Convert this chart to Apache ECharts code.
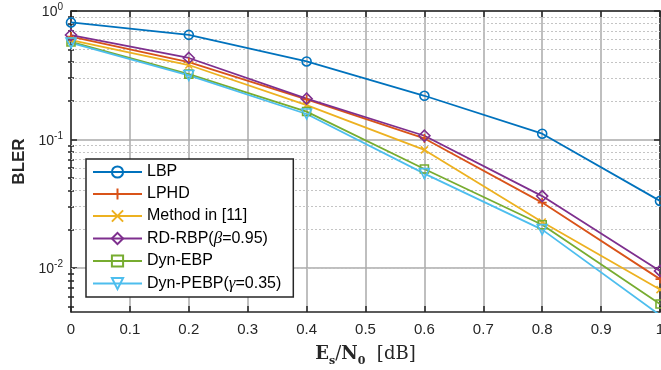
<!DOCTYPE html>
<html><head><meta charset="utf-8">
<script src="https://cdn.jsdelivr.net/npm/echarts@6/dist/echarts.min.js"></script>
<style>html,body{margin:0;padding:0;background:#fff}#c{width:661px;height:370px}</style>
</head><body><div id="c"></div>
<script>
// ---- data ----
const snr = [0, 0.2, 0.4, 0.6, 0.8, 1.0];
const lbp     = [0.815, 0.652, 0.405, 0.219, 0.111, 0.0333];
const lphd    = [0.633, 0.400, 0.205, 0.102, 0.0323, 0.0082];
const method11 = [0.594, 0.380, 0.185, 0.083, 0.0228, 0.0068];
const rdrbp   = [0.650, 0.431, 0.208, 0.107, 0.0363, 0.0095];
const dynebp  = [0.574, 0.323, 0.165, 0.059, 0.0217, 0.00525];
const dynpebp = [0.564, 0.315, 0.158, 0.0543, 0.0199, 0.0043];
const xTicks = [0, 0.1, 0.2, 0.3, 0.4, 0.5, 0.6, 0.7, 0.8, 0.9, 1];
const yMajor = [0.01, 0.1, 1];
const yMinor = [0.005, 0.006, 0.007, 0.008, 0.009,
  0.02, 0.03, 0.04, 0.05, 0.06, 0.07, 0.08, 0.09,
  0.2, 0.3, 0.4, 0.5, 0.6, 0.7, 0.8, 0.9];
const yMin = 0.00455, yMax = 1;

const AX = '#262626';
const sans = 'Liberation Sans';
const serif = 'DejaVu Serif';

function mk(name, vals, color, symbol, size, rotate) {
  return {
    name, type: 'line', xAxisIndex: 0, yAxisIndex: 0,
    data: snr.map((x, i) => [x, vals[i]]),
    symbol, symbolSize: size, symbolRotate: rotate || 0,
    showAllSymbol: true, clip: true,
    lineStyle: { color, width: 1.8 },
    itemStyle: { color: 'rgba(255,255,255,0)', borderColor: color, borderWidth: 1.6 },
    emphasis: { disabled: true },
    z: 5
  };
}

const plus = 'path://M5,0V10M0,5H10';
const cross = 'path://M0,0L10,10M10,0L0,10';

const series = [
  mk('LBP', lbp, '#0072BD', 'circle', 9),
  mk('LPHD', lphd, '#D95319', plus, 9),
  mk('Method in [11]', method11, '#EDB120', cross, 7),
  mk('RD-RBP', rdrbp, '#7E2F8E', 'diamond', 11),
  mk('Dyn-EBP', dynebp, '#77AC30', 'rect', 8),
  mk('Dyn-PEBP', dynpebp, '#4DBEEE', 'triangle', 10, 180),
  {
    name: 'minorgrid', type: 'line', data: [], xAxisIndex: 0, yAxisIndex: 0,
    markLine: {
      silent: true, symbol: 'none', label: { show: false },
      lineStyle: { color: '#c4c4c4', type: [2, 2], width: 1 },
      data: yMinor.map(v => ({ yAxis: v }))
    }, z: 1
  }
];

const legendNames = {
  'LBP': '{n|LBP}',
  'LPHD': '{n|LPHD}',
  'Method in [11]': '{n|Method in [11]}',
  'RD-RBP': '{n|RD-RBP(}{i|β}{n|=0.95)}',
  'Dyn-EBP': '{n|Dyn-EBP}',
  'Dyn-PEBP': '{n|Dyn-PEBP(}{i|γ}{n|=0.35)}'
};

const yLabelFmt = v => {
  const e = Math.round(Math.log10(v));
  return '{b|10}{s|' + e + '}';
};

const option = {
  backgroundColor: '#fff',
  animation: false,
  grid: { left: 71, right: 1, top: 11, bottom: 58, containLabel: false, outerBoundsMode: 'none' },
  legend: {
    data: ['LBP', 'LPHD', 'Method in [11]', 'RD-RBP', 'Dyn-EBP', 'Dyn-PEBP'],
    orient: 'vertical', left: 86, top: 159,
    itemWidth: 49, itemHeight: 14, itemGap: 6,
    padding: [5, 12, 5, 6],
    backgroundColor: '#fff', borderColor: AX, borderWidth: 1.5, borderRadius: 0,
    formatter: n => legendNames[n],
    textStyle: {
      rich: {
        n: { fontFamily: sans, fontSize: 16, color: '#000' },
        i: { fontFamily: 'Liberation Serif', fontStyle: 'italic', fontSize: 17, color: '#000' }
      }
    },
    selectedMode: false, z: 10
  },
  xAxis: [
    {
      type: 'value', min: 0, max: 1, interval: 0.1, position: 'bottom',
      axisLine: { show: true, onZero: false, lineStyle: { color: AX, width: 1.5 } },
      axisTick: { show: true, inside: true, length: 6, lineStyle: { color: AX, width: 1.5 } },
      axisLabel: { color: AX, fontFamily: sans, fontSize: 15, margin: 10,
        formatter: v => String(Math.round(v * 10) / 10) },
      splitLine: { show: true, lineStyle: { color: '#aaaaaa', width: 1.5 } },
      name: '{b|E}{bs|s}{r|/}{b|N}{bs|0}{r|  [dB]}',
      nameLocation: 'middle', nameGap: 33,
      nameTextStyle: {
        rich: {
          b: { fontFamily: serif, fontWeight: 'bold', fontSize: 18, color: AX, verticalAlign: 'bottom', padding: [0, 0, 4, 0] },
          bs: { fontFamily: serif, fontWeight: 'bold', fontSize: 11, color: AX, verticalAlign: 'bottom' },
          r: { fontFamily: serif, fontSize: 18, color: AX, verticalAlign: 'bottom', padding: [0, 0, 4, 0] }
        }
      }
    },
    {
      type: 'value', min: 0, max: 1, interval: 0.1, position: 'top',
      axisLine: { show: true, onZero: false, lineStyle: { color: AX, width: 1.5 } },
      axisTick: { show: true, inside: true, length: 6, lineStyle: { color: AX, width: 1.5 } },
      axisLabel: { show: false }, splitLine: { show: false }
    }
  ],
  yAxis: [
    {
      type: 'log', logBase: 10, min: yMin, max: yMax, position: 'left',
      axisLine: { show: true, onZero: false, lineStyle: { color: AX, width: 1.5 } },
      axisTick: { show: true, inside: true, length: 6, customValues: yMajor, lineStyle: { color: AX, width: 1.5 } },
      axisLabel: { show: true, customValues: yMajor, formatter: yLabelFmt, margin: 8,
        rich: {
          b: { fontFamily: sans, fontSize: 14, color: AX, verticalAlign: 'top', padding: [3, 0, 0, 0] },
          s: { fontFamily: sans, fontSize: 10, color: AX, verticalAlign: 'top' }
        } },
      splitLine: { show: true, lineStyle: { color: '#aaaaaa', width: 1.5 } },
      minorTick: { show: false }, minorSplitLine: { show: false },
      name: 'BLER', nameLocation: 'middle', nameGap: 40,
      nameTextStyle: { fontFamily: sans, fontWeight: 'bold', fontSize: 17, color: AX }
    },
    {
      type: 'log', logBase: 10, min: yMin, max: yMax, position: 'left',
      axisLine: { show: false },
      axisTick: { show: true, inside: true, length: 3, customValues: yMinor, lineStyle: { color: AX, width: 1.5 } },
      axisLabel: { show: false }, splitLine: { show: false }
    },
    {
      type: 'log', logBase: 10, min: yMin, max: yMax, position: 'right',
      axisLine: { show: true, onZero: false, lineStyle: { color: AX, width: 1.5 } },
      axisTick: { show: true, inside: true, length: 6, customValues: yMajor, lineStyle: { color: AX, width: 1.5 } },
      axisLabel: { show: false }, splitLine: { show: false }
    },
    {
      type: 'log', logBase: 10, min: yMin, max: yMax, position: 'right',
      axisLine: { show: false },
      axisTick: { show: true, inside: true, length: 3, customValues: yMinor, lineStyle: { color: AX, width: 1.5 } },
      axisLabel: { show: false }, splitLine: { show: false }
    }
  ],
  series
};

const chart = echarts.init(document.getElementById('c'), null, { renderer: 'canvas' });
chart.setOption(option);
</script>
</body></html>
